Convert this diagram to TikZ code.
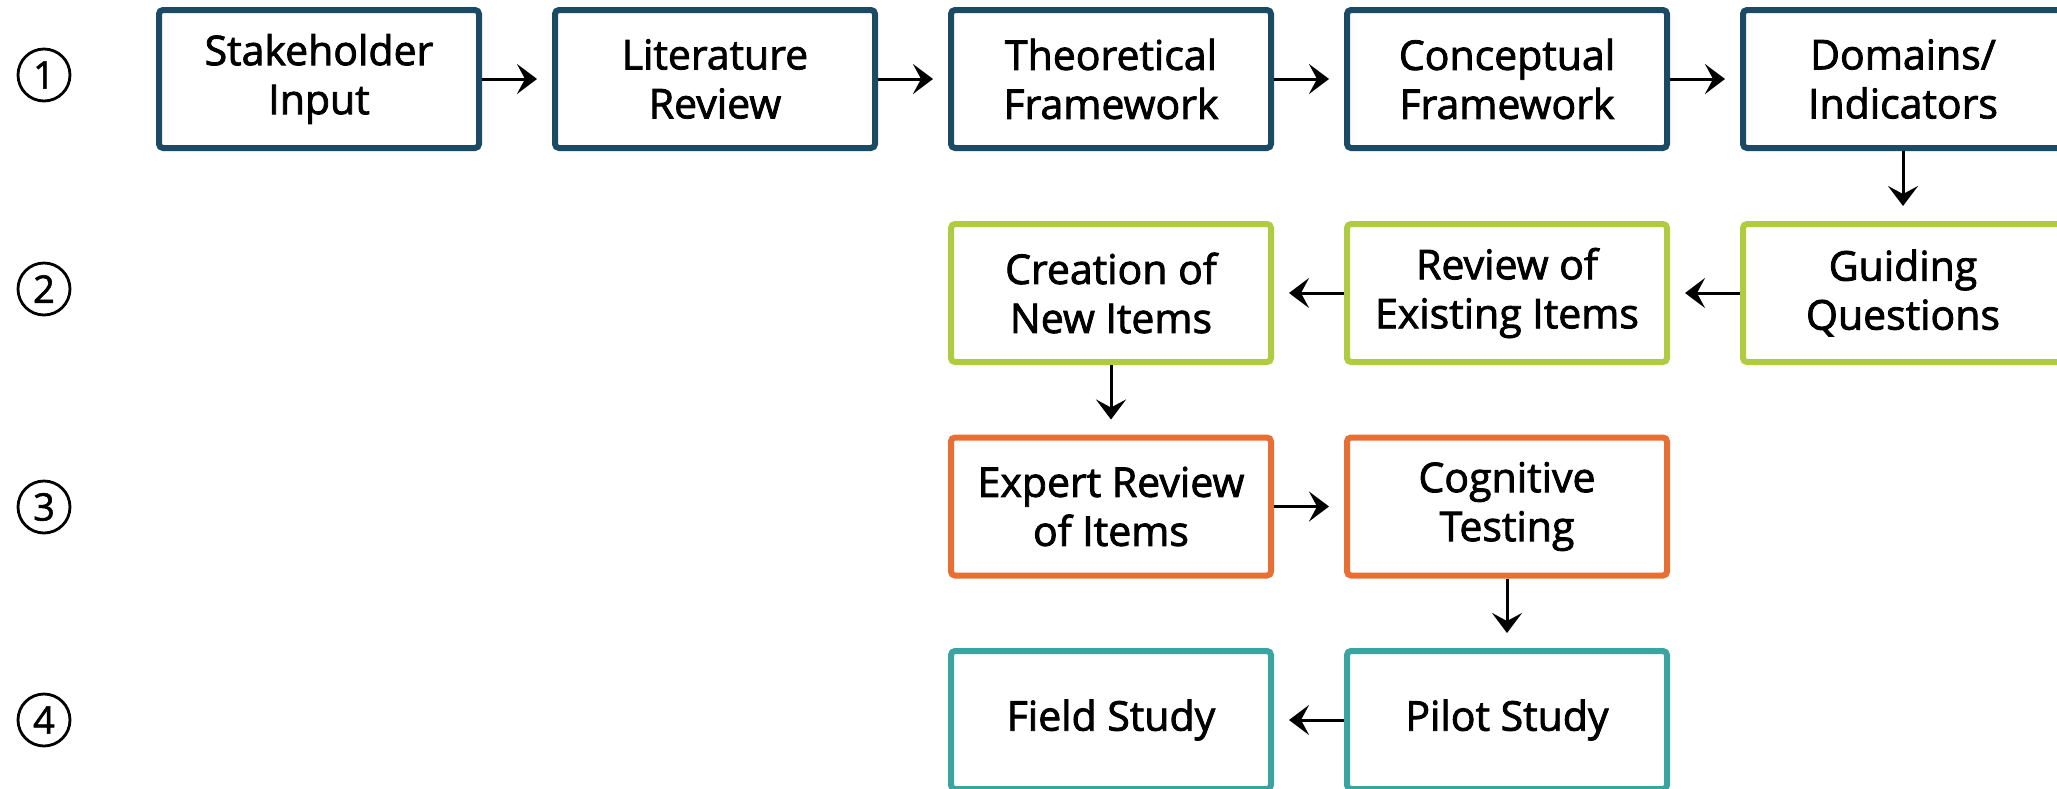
\documentclass[tikz,border=0pt]{standalone}
\usepackage{fontspec}
\setmainfont{Open Sans}[FakeBold=2]
\newfontfamily\numfont{Open Sans}[FakeBold=1.5]
\usetikzlibrary{arrows.meta}
\definecolor{cblue}{HTML}{1B4A65}
\definecolor{cgreen}{HTML}{AFCB3F}
\definecolor{corange}{HTML}{E76F33}
\definecolor{cteal}{HTML}{3BA3A0}
\tikzset{
  box/.style={draw, line width=3pt, rounded corners=2pt, minimum width=160pt, minimum height=69pt,
    align=center, inner sep=0pt, fill=white,
    font=\fontsize{20.5pt}{24.5pt}\selectfont},
  bluebox/.style={box, draw=cblue},
  greenbox/.style={box, draw=cgreen},
  orangebox/.style={box, draw=corange},
  tealbox/.style={box, draw=cteal},
  arr/.style={line width=1.5pt, -{Stealth[length=10pt,width=15pt,inset=4pt]}, shorten >=7.5pt},
  num/.style={circle, draw, line width=1.4pt, minimum size=26pt, inner sep=0pt,
    font=\numfont\fontsize{19pt}{19pt}\selectfont}
}
\begin{document}
\begin{tikzpicture}[x=0.5pt,y=-0.5pt]
\useasboundingbox (0,0) rectangle (2057,788);
% row labels
\node[num] (n1) at (44,75) {1};
\node[num] (n2) at (44,289) {2};
\node[num] (n3) at (44,507) {3};
\node[num] (n4) at (44,720) {4};
% row 1
\node[bluebox] (s1) at (319,79) {Stakeholder\\Input};
\node[bluebox] (s2) at (715,79) {Literature\\Review};
\node[bluebox] (s3) at (1111,79) {Theoretical\\Framework};
\node[bluebox] (s4) at (1507,79) {Conceptual\\Framework};
\node[bluebox] (s5) at (1903,79) {Domains/\\Indicators};
% row 2
\node[greenbox] (g1) at (1903,293) {Guiding\\Questions};
\node[greenbox] (g2) at (1507,293) {Review of\\Existing Items};
\node[greenbox] (g3) at (1111,293) {Creation of\\New Items};
% row 3
\node[orangebox] (o1) at (1111,506.5) {Expert Review\\of Items};
\node[orangebox] (o2) at (1507,506.5) {Cognitive\\Testing};
% row 4
\node[tealbox] (t1) at (1507,720) {Pilot Study};
\node[tealbox] (t2) at (1111,720) {Field Study};
% connectors
\draw[arr] (s1) -- (s2);
\draw[arr] (s2) -- (s3);
\draw[arr] (s3) -- (s4);
\draw[arr] (s4) -- (s5);
\draw[arr] (s5) -- (g1);
\draw[arr] (g1) -- (g2);
\draw[arr] (g2) -- (g3);
\draw[arr] (g3) -- (o1);
\draw[arr] (o1) -- (o2);
\draw[arr] (o2) -- (t1);
\draw[arr] (t1) -- (t2);
\end{tikzpicture}
\end{document}
